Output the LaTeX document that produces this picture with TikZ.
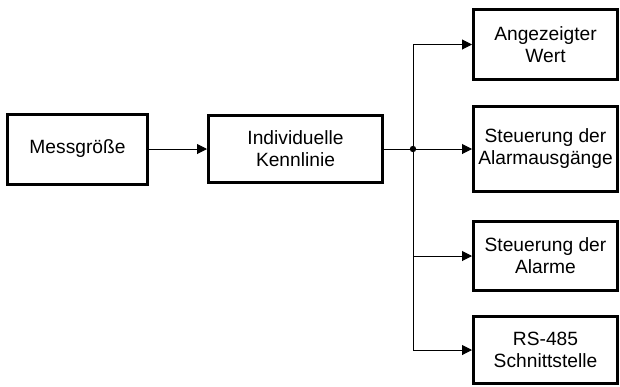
\documentclass[tikz,border=0pt]{standalone}
\usepackage{fontspec}
\setmainfont{Liberation Sans}
\usetikzlibrary{arrows.meta, positioning}

\begin{document}
\begin{tikzpicture}[>={Triangle[length=5pt, width=5pt]}]
        % Style definitions
        \tikzstyle{block} = [draw, line width=1.5pt, rectangle, minimum height=33.5pt, inner xsep=1pt, align=center, font=\fontsize{9.6}{11}\selectfont]
        \tikzstyle{outblock} = [block, minimum width=72pt, anchor=west]
        \tikzstyle{link} = [->, line width=0.5pt]

        \useasboundingbox (0,0) rectangle (310pt,-193pt);

        % Pipeline Nodes
        \node [block, minimum width=70pt, minimum height=35pt] (mess) at (38.75pt,-74.5pt) {Messgröße};
        \node [block, minimum width=87pt, right=29pt of mess] (kennlinie) {Individuelle\\Kennlinie};
        \coordinate [right=14.5pt of kennlinie.east] (split);

        \node [outblock, minimum height=35pt] (wert) at (236pt,-22.25pt) {Angezeigter\\Wert};
        \node [outblock, minimum height=42.5pt] (ausgaenge) at (236pt,-74.5pt) {Steuerung der\\Alarmausgänge};
        \node [outblock, minimum height=34.5pt] (alarme) at (236pt,-128pt) {Steuerung der\\Alarme};
        \node [outblock] (rs) at (236pt,-175pt) {RS-485\\Schnittstelle};

        % Arrows
        \draw [link] (mess) -- (kennlinie);
        \draw [line width=0.5pt] (kennlinie) -- (split);
        \draw [line width=0.5pt] (split |- wert) -- (split |- rs);
        \draw [link] (split |- wert) -- (wert);
        \draw [link] (split) -- (ausgaenge);
        \draw [link] (split |- alarme) -- (alarme);
        \draw [link] (split |- rs) -- (rs);
        \fill (split) circle (1.6pt);
    \end{tikzpicture}
\end{document}
